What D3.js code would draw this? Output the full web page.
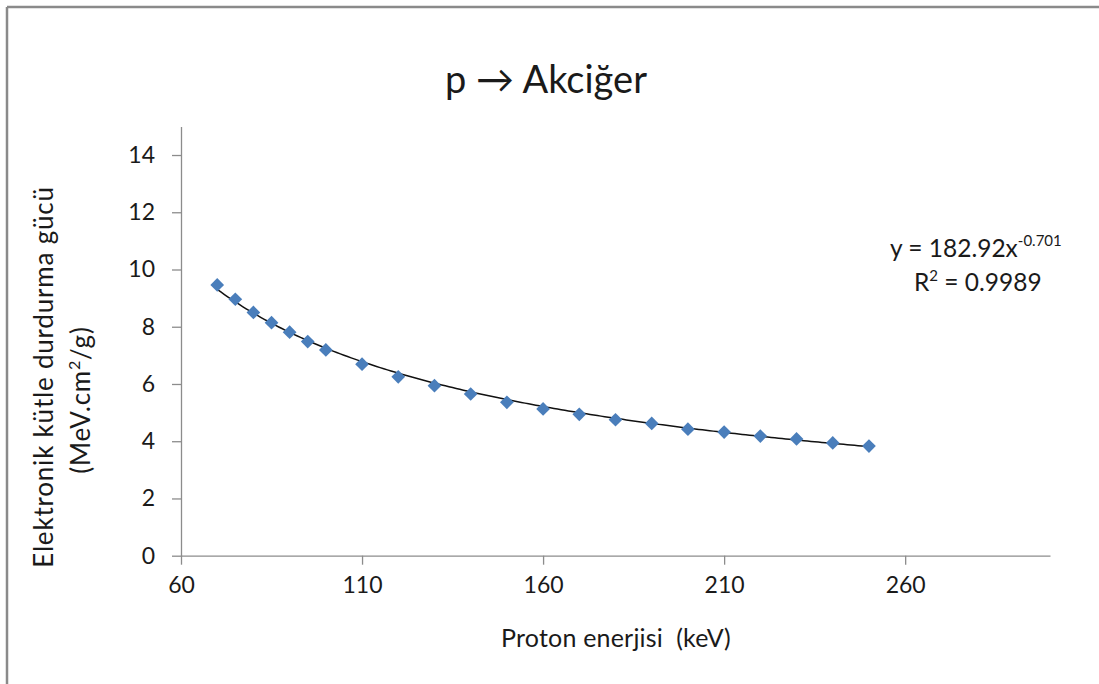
<!DOCTYPE html>
<html>
<head>
<meta charset="utf-8">
<script src="https://cdn.jsdelivr.net/npm/d3@7"></script>
<style>
  html, body { margin: 0; padding: 0; background: #fff; }
  svg { display: block; }
  text { font-family: Lato, "Open Sans", sans-serif; fill: #1a1a1a; }
</style>
</head>
<body>
<svg id="chart" width="1099" height="684"></svg>
<script>
// Proton energy (keV) and electronic mass stopping power (MeV.cm²/g) in lung tissue
const energies = [70, 75, 80, 85, 90, 95, 100, 110, 120, 130, 140, 150, 160, 170, 180, 190, 200, 210, 220, 230, 240, 250];
const stopping = [9.46, 8.96, 8.50, 8.14, 7.81, 7.48, 7.19, 6.69, 6.25, 5.94, 5.65, 5.36, 5.13, 4.94, 4.75, 4.62, 4.42, 4.32, 4.18, 4.08, 3.94, 3.83];

// Power-law trendline y = a·x^b as given in the equation label
const fitA = 182.92;
const fitB = -0.701;
const fitR2 = 0.9989;

const xTicks = [60, 110, 160, 210, 260];
const yTicks = [0, 2, 4, 6, 8, 10, 12, 14];
const xDomain = [60, 300];
const yDomain = [0, 15];

const svg = d3.select("#chart");

// chart frame (only the top and left edges fall inside the view)
svg.append("line").attr("x1", 7).attr("x2", 1099).attr("y1", 7).attr("y2", 7)
  .attr("stroke", "#8a8a8a").attr("stroke-width", 2.5);
svg.append("line").attr("x1", 7).attr("x2", 7).attr("y1", 7).attr("y2", 684)
  .attr("stroke", "#8a8a8a").attr("stroke-width", 2.5);

const plot = { left: 181, right: 1050, top: 126.4, bottom: 555.7 };

const x = d3.scaleLinear().domain(xDomain).range([plot.left, plot.right]);
const y = d3.scaleLinear().domain(yDomain).range([plot.bottom, plot.top]);

// axes
const xAxis = d3.axisBottom(x).tickValues(xTicks).tickSizeInner(9).tickSizeOuter(0)
  .tickPadding(8).tickFormat(d3.format("d"));
const yAxis = d3.axisLeft(y).tickValues(yTicks).tickSizeInner(9).tickSizeOuter(0)
  .tickPadding(17).tickFormat(d3.format("d"));

const gx = svg.append("g").attr("transform", `translate(0,${plot.bottom})`).call(xAxis);
const gy = svg.append("g").attr("transform", `translate(${plot.left},0)`).call(yAxis);

[gx, gy].forEach(g => {
  g.select(".domain").attr("stroke", "#8c8c8c").attr("stroke-width", 1.3);
  g.selectAll(".tick line").attr("stroke", "#8c8c8c").attr("stroke-width", 1.3);
  g.selectAll(".tick text").attr("font-size", 23).attr("fill", "#1a1a1a")
    .attr("font-family", "Lato, 'Open Sans', sans-serif");
});
gx.selectAll(".tick text").attr("dy", "0.9em");

// trendline
const curveX = d3.range(energies[0], energies[energies.length - 1] + 0.5, 1);
const line = d3.line().x(d => x(d)).y(d => y(fitA * Math.pow(d, fitB)));
svg.append("path").datum(curveX).attr("d", line)
  .attr("fill", "none").attr("stroke", "#111").attr("stroke-width", 1.5);

// data markers (diamonds)
const diamond = d3.symbol().type(d3.symbolDiamond2).size(120);
svg.append("g").selectAll("path").data(energies).join("path")
  .attr("transform", (d, i) => `translate(${x(d)},${y(stopping[i])})`)
  .attr("d", diamond)
  .attr("fill", "#4a7ebb");

// title
svg.append("text").attr("x", 546).attr("y", 93).attr("text-anchor", "middle")
  .attr("font-size", 38).attr("fill", "#000").text("p → Akciğer");

// axis titles
svg.append("text").attr("x", 616).attr("y", 647).attr("text-anchor", "middle")
  .attr("font-size", 25).attr("letter-spacing", 0.2).style("white-space", "pre")
  .text("Proton enerjisi  (keV)");

const yLab = svg.append("g");
yLab.append("text").attr("transform", "translate(53,377) rotate(-90)")
  .attr("text-anchor", "middle").attr("font-size", 26).attr("letter-spacing", 0.8)
  .attr("fill", "#a86a14")
  .text("Elektronik kütle durdurma gücü");
const yl2 = yLab.append("text").attr("transform", "translate(90,400) rotate(-90)")
  .attr("text-anchor", "middle").attr("font-size", 26).attr("letter-spacing", 0.8)
  .attr("fill", "#1a1a1a");
yl2.append("tspan").text("(MeV.cm");
yl2.append("tspan").attr("font-size", 16).attr("dy", -10).text("2");
yl2.append("tspan").attr("dy", 10).text("/g)");

// trendline equation
const eq = svg.append("text").attr("x", 890).attr("y", 257).attr("font-size", 24.5);
eq.append("tspan").text(`y = ${fitA.toFixed(2)}x`);
eq.append("tspan").attr("font-size", 15).attr("dy", -11).text(`${fitB}`);
const r2 = svg.append("text").attr("x", 914).attr("y", 291).attr("font-size", 24.5);
r2.append("tspan").text("R");
r2.append("tspan").attr("font-size", 15).attr("dy", -10).text("2");
r2.append("tspan").attr("dy", 10).text(` = ${fitR2}`);
</script>
</body>
</html>
